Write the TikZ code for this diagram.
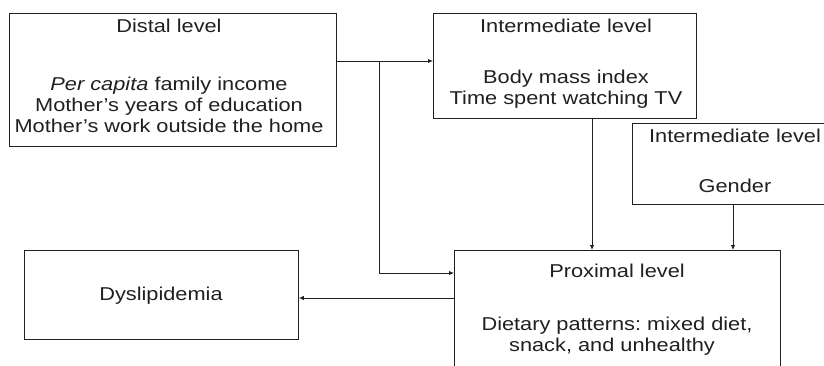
\documentclass[tikz,border=0pt]{standalone}
\usepackage{fontspec}
\setmainfont{Liberation Sans}[FakeStretch=1.17]
\usetikzlibrary{arrows.meta}
\definecolor{ink}{HTML}{231F20}
\frenchspacing
\begin{document}
\begin{tikzpicture}[x=1pt,y=-1pt,
  box/.style={draw=ink,line width=0.9pt,rectangle,anchor=north west,inner sep=0pt},
  txt/.style={anchor=north,inner sep=0pt,align=center,text=ink,font=\fontsize{18.6}{21}\selectfont\frenchspacing},
  arr/.style={draw=ink,line width=0.9pt,-{Latex[length=5pt,width=4.5pt]}}]
\useasboundingbox (0,0) rectangle (824,366);
\clip (0,0) rectangle (824,366);
\fill[white] (0,0) rectangle (824,366);
% boxes
\node[box,minimum width=327,minimum height=133] (distal) at (9,13) {};
\node[box,minimum width=263,minimum height=105] (inter) at (433,13) {};
\node[box,minimum width=204,minimum height=81] (gender) at (632,123) {};
\node[box,minimum width=326,minimum height=140] (prox) at (454,250) {};
\node[box,minimum width=274,minimum height=89] (dys) at (24,250) {};
% texts
\node[txt] (distalT) at (169,18.7) {Distal level\\[37pt]\textit{Per capita} family income\\Mother’s years of education\\Mother’s work outside the home};
\node[txt] (interT) at (566,18.7) {Intermediate level\\[30pt]Body mass index\\Time spent watching TV};
\node[txt] (genderT) at (735,128.4) {Intermediate level\\[29.3pt]Gender};
\node[txt] (proxT) at (617,263.4) {Proximal level\\[32.3pt]Dietary patterns: mixed diet,\\snack, and unhealthy\hspace*{10pt}};
\node[txt] (dysT) at (161,286.7) {Dyslipidemia};
% connectors
\coordinate (j1) at (379,61);
\coordinate (j2) at (379,273);
\coordinate (x1) at (592,0);
\coordinate (x2) at (733,0);
\coordinate (y1) at (0,298);
\draw[arr] (j1 -| distal.east) -- (j1 -| inter.west);
\draw[arr] (j1) -- (j2) -- (j2 -| prox.west);
\draw[arr] (x1 |- inter.south) -- (x1 |- prox.north);
\draw[arr] (x2 |- gender.south) -- (x2 |- prox.north);
\draw[arr] (y1 -| prox.west) -- (y1 -| dys.east);
\end{tikzpicture}
\end{document}
